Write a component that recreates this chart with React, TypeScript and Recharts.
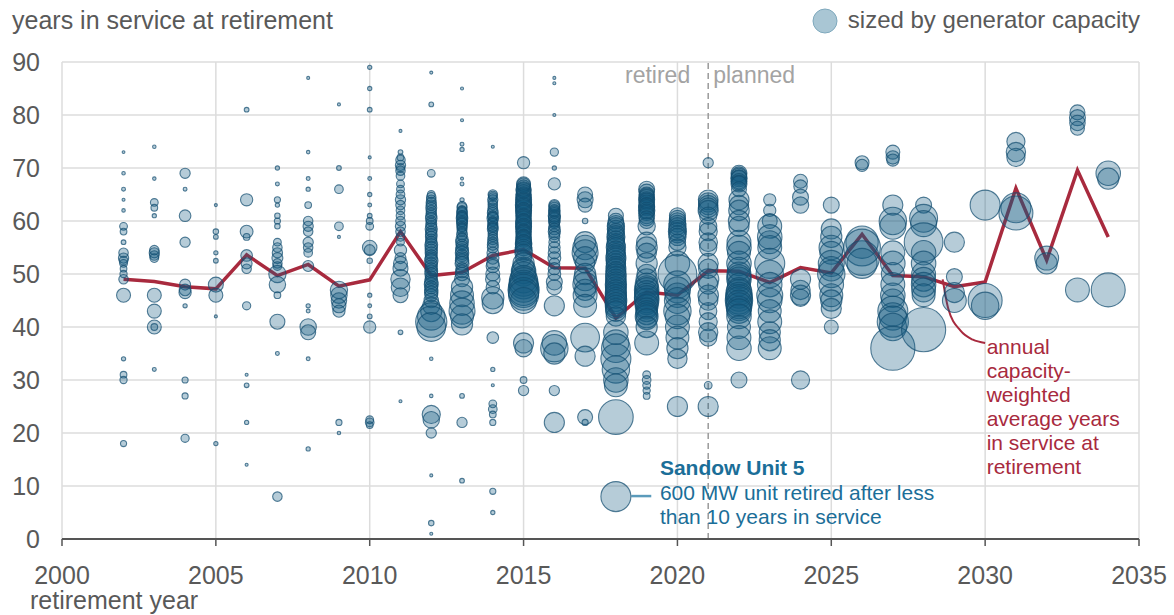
import { ComposedChart, Scatter, Line, XAxis, YAxis, ZAxis, CartesianGrid, ReferenceLine, ReferenceDot } from "recharts";

// [years in service, capacity MW] for each unit, grouped by retirement year
const u2002 = [[73,5],[69,8],[66,10],[64,6],[62,8],[59,40],[58,30],[56,15],[54,60],[53,70],[52.5,50],[52,40],[51,30],[50,35],[49,60],[46,130],[34,12],[31,30],[30,35],[18,25]];
const u2003 = [[74,8],[68,8],[63.5,40],[62.5,30],[61,12],[54.5,60],[54,70],[53.5,60],[53,50],[46,130],[43,130],[40,130],[40,30],[32,10]];
const u2004 = [[69,70],[66,10],[61,90],[56,70],[48,80],[47,90],[46.5,100],[44,12],[30,25],[27,25],[19,45]];
const u2005 = [[63,6],[58,20],[57,15],[54,12],[52.5,15],[48,150],[46,130],[42,6],[18,12]];
const u2006 = [[81,15],[64,100],[58,110],[57,30],[53.5,90],[52,80],[51,60],[44,45],[31,6],[29,15],[22,12],[14,6]];
const u2007 = [[70,12],[67,10],[64,25],[63,12],[61,20],[60,25],[59,20],[56,40],[55,60],[54,70],[53,80],[52,60],[51.5,50],[50,200],[48,180],[46,30],[41,150],[35,10],[8,60]];
const u2008 = [[87,6],[73,8],[68,10],[66,12],[63,30],[60,60],[59,70],[58,60],[56,70],[55,60],[54,50],[51.5,80],[44,12],[43,10],[40,180],[39,150],[34,10],[17,12]];
const u2009 = [[82,6],[70,15],[66,50],[59,50],[57,6],[47,200],[46,180],[45,160],[44,130],[43,100],[22,25],[20,8]];
const u2010 = [[89,12],[85,12],[81,15],[72,6],[68,10],[65,12],[63,10],[61,15],[60,30],[59,40],[55,140],[54.5,80],[52.5,20],[46,12],[44,10],[42,15],[40,100],[22.5,40],[22,50],[21.5,30]];
const u2011 = [[77,6],[73,15],[72,30],[71.5,60],[70.5,70],[70,50],[69.5,60],[68.5,50],[67,40],[66,40],[65,50],[64,70],[63,60],[62,50],[61,50],[60,60],[59,70],[58,60],[57,50],[56,40],[54.5,100],[53,80],[52,130],[51,150],[49,250],[47.5,230],[46,150],[39,15],[26,6]];
const u2012 = [[88,6],[82,15],[69,40],[65,40],[64.5,60],[64,60],[63.5,70],[63,70],[62.5,80],[62,70],[61.5,70],[61,80],[60.5,90],[60,70],[59.5,80],[59,80],[58.5,100],[58,80],[57.5,90],[57,90],[56.5,80],[56,90],[55.5,110],[55,100],[54.5,100],[54,100],[53.5,90],[53,100],[52.5,120],[52,100],[51.5,100],[51,100],[50.5,110],[50,110],[49.5,90],[49,100],[48.5,120],[48,130],[47.5,110],[47,120],[46.5,120],[46,110],[45,140],[44,200],[43,300],[42,500],[41,650],[40,550],[34,8],[27,8],[23.5,220],[22.5,180],[20,70],[12,6],[3,20],[1,6]];
const u2013 = [[85,6],[79,6],[74.5,10],[73.5,12],[68,6],[67,10],[64,12],[62.8,60],[62.5,70],[62,60],[61.8,70],[61.5,80],[61,70],[60.8,80],[60.5,90],[60,80],[59.8,70],[59.5,80],[59,70],[58.8,60],[58.5,70],[58,60],[57.5,80],[57,60],[56.5,100],[56,110],[55.5,90],[55,100],[54.5,110],[54,120],[53.5,100],[53,110],[52.5,120],[52,130],[51,100],[50.5,110],[50,120],[49,150],[47.5,300],[46,350],[44.5,400],[43,450],[42,350],[40.5,300],[27,15],[22,70],[11,15]];
const u2014 = [[74,6],[65,60],[64.8,50],[64.5,50],[64,70],[63.5,60],[63,60],[62.5,60],[62,70],[61.5,80],[61,70],[60.8,70],[60.5,90],[60,60],[59.8,60],[59.5,70],[59,70],[58.8,70],[58.5,80],[58,60],[57.5,60],[57,60],[56.5,70],[56,70],[55.5,80],[55,80],[54,90],[53,100],[52,100],[51.5,120],[50,130],[49,140],[47.5,120],[45.5,330],[44.5,300],[38,90],[32,12],[29,6],[25.5,40],[24.5,50],[23.5,30],[22,25],[9,25],[5,12]];
const u2015 = [[71,100],[67,130],[66.8,130],[66.5,120],[66,150],[65.8,150],[65.5,140],[65,160],[64.8,150],[64.5,150],[64,170],[63.8,160],[63.5,160],[63,180],[62.8,170],[62.5,170],[62,170],[61.8,160],[61.5,160],[61,160],[60.8,150],[60.5,150],[60,150],[59.8,170],[59.5,170],[59,170],[58.8,160],[58.5,160],[58,160],[57.8,150],[57.5,150],[57,150],[56.8,160],[56.5,160],[56,160],[55.8,180],[55.5,180],[55,180],[54.5,200],[54,200],[53,170],[52,300],[51,350],[50.5,400],[50,400],[49,500],[48.5,550],[48,550],[47.5,600],[47,650],[46.5,600],[46,600],[45,450],[37,270],[36,200],[30,30],[28,70]];
const u2016 = [[87,6],[86,6],[80,6],[73,45],[70,12],[67,100],[63,80],[62.8,80],[62.5,80],[62,90],[61.8,80],[61.5,80],[61,100],[60.8,90],[60.5,90],[60,90],[59.8,80],[59.5,70],[59,80],[58.5,90],[58,100],[57.5,80],[57,80],[56,80],[55,90],[54,100],[53,110],[52,80],[51,100],[50,110],[48.5,170],[47.5,150],[44,270],[37,400],[36,500],[35,300],[28,70],[22,270]];
const u2017 = [[65,150],[64,170],[63,130],[60,20],[56,300],[55,400],[54,450],[53,350],[52,250],[50,300],[49,350],[48,400],[47,300],[46,380],[44,350],[38,550],[34.5,270],[23,150],[22,25]];
const u2018 = [[61,150],[60,160],[59.5,180],[59,200],[58.5,200],[58,180],[57.5,200],[57,220],[56.5,200],[56,200],[55.5,230],[55,250],[54.5,230],[54,230],[53.5,250],[53,270],[52.5,250],[52,250],[51.5,250],[51,270],[50.5,250],[50,280],[49.5,280],[49,270],[48.5,280],[48,300],[47.5,290],[47,280],[46.5,300],[46,300],[45.5,300],[45,320],[44.5,300],[44,300],[43.5,280],[43,280],[42,250],[39,400],[37,450],[36,550],[34,600],[32,500],[30,400],[29,350],[23,800],[8,600]];
const u2019 = [[66,170],[65.5,160],[65,150],[64.8,150],[64.5,160],[64,170],[63.8,160],[63.5,150],[63,160],[62.8,170],[62.5,170],[62,180],[61.8,150],[61.5,150],[61,170],[60.5,150],[60,150],[59,200],[56,270],[55,300],[54,250],[52,300],[50,250],[49,300],[48,350],[47.5,350],[47,400],[46.5,380],[46,380],[45.5,400],[45,400],[44.5,350],[44,350],[43.5,300],[43,300],[42.5,320],[42,350],[41.5,300],[40,300],[37,380],[31,40],[30,50],[29,40],[28,35],[27,30]];
const u2020 = [[61,170],[60.5,170],[60,180],[59.5,190],[59,200],[58.5,200],[58,220],[57.5,200],[57,200],[56,180],[55,200],[52,400],[50,1000],[48,500],[47,450],[46,400],[45,450],[43,500],[42,400],[40,380],[38,350],[36,300],[34,250],[25,270]];
const u2021 = [[71,70],[64,260],[63.5,250],[63,250],[62.5,260],[62,270],[61,200],[59,200],[58,220],[56,230],[55,200],[52,270],[51,250],[49,300],[48,250],[46,280],[45,250],[43,200],[41,220],[39,250],[38,200],[29,40],[25,270]];
const u2022 = [[69,170],[68.8,150],[68.5,160],[68.2,160],[68,180],[67.5,160],[67.2,150],[67,170],[66,150],[64,270],[63,250],[62,280],[60,300],[59,270],[56,380],[55,400],[54,350],[52,400],[51,350],[50,380],[49.5,380],[49,400],[48,350],[47,400],[46.5,450],[46,450],[45.5,480],[45,500],[44.5,450],[44,450],[43.5,400],[43,400],[42,400],[40,350],[38,380],[36,400],[30,170]];
const u2023 = [[64,100],[62,100],[60,150],[59,380],[57,400],[56,350],[55,380],[52,600],[50,500],[48,400],[46,450],[45,400],[43,350],[41,380],[39,300],[37.5,300],[36,350]];
const u2024 = [[67.5,130],[66.5,120],[64.5,170],[63,180],[49,270],[47,250],[46,270],[45.5,200],[30,220]];
const u2025 = [[63,170],[58.5,270],[57,300],[55,400],[54,350],[52,450],[51,400],[50,500],[48,400],[46,350],[45,300],[43.5,270],[40,130]];
const u2026 = [[71,130],[70.5,100],[56,700],[55,900],[53,800],[52,600]];
const u2027 = [[73,130],[72,120],[71.5,100],[63,270],[60,500],[59,450],[54,380],[52,400],[50,350],[48,380],[46,400],[45,350],[43,600],[42,500],[41,650],[40,500],[36,1300]];
const u2028 = [[63,170],[60.5,520],[59.5,450],[56,1000],[54,400],[52,400],[50,380],[49,380],[48,400],[47,380],[46,350],[39.5,1300]];
const u2029 = [[56,270],[49.5,170],[46.5,270],[45,380]];
const u2030 = [[63,600],[45,770],[44,500]];
const u2031 = [[75,220],[73,250],[72,220],[62.5,600],[61.5,770]];
const u2032 = [[53,380],[52,300]];
const u2033 = [[80.5,150],[79.5,170],[78.5,160],[77.5,130],[47,380]];
const u2034 = [[69,400],[68,300],[47,770]];

const unitYears = [2002, 2003, 2004, 2005, 2006, 2007, 2008, 2009, 2010, 2011, 2012, 2013, 2014, 2015, 2016, 2017, 2018,
  2019, 2020, 2021, 2022, 2023, 2024, 2025, 2026, 2027, 2028, 2029, 2030, 2031, 2032, 2033, 2034];
const unitLists = [u2002, u2003, u2004, u2005, u2006, u2007, u2008, u2009, u2010, u2011, u2012, u2013, u2014, u2015, u2016, u2017, u2018,
  u2019, u2020, u2021, u2022, u2023, u2024, u2025, u2026, u2027, u2028, u2029, u2030, u2031, u2032, u2033, u2034];

// capacity-weighted average
const avgYears = unitYears;
const avgAges = [49, 48.6, 47.6, 47.2, 53.6, 49.7, 51.8, 47.7, 48.9, 58, 49.7, 50.3, 53.5, 54.6, 51.2, 51.1, 41.7,
  46.6, 46, 50.6, 50.5, 48.4, 51.2, 50.2, 57.5, 49.7, 49.5, 47.6, 48.5, 66.2, 52.6, 69.6, 57];

const calloutYears = [2028.62, 2028.8, 2029.2, 2029.6, 2030];
const calloutAges = [49, 43.5, 39.3, 37.6, 37];

const xTicks = [2000, 2005, 2010, 2015, 2020, 2025, 2030, 2035];
const yTicks = [0, 10, 20, 30, 40, 50, 60, 70, 80, 90];

const units = unitLists.flatMap((list, i) => list.map(([age, mw]) => ({ year: unitYears[i], age, mw })));
const avgData = avgYears.map((year, i) => ({ year, age: avgAges[i] }));
const calloutData = calloutYears.map((year, i) => ({ year, age: calloutAges[i] }));

const FONT = '"Liberation Sans", Arial, sans-serif';
const GREY = "#595959";
const RED = "#a82a3e";
const BLUE_TEXT = "#1b6e98";

const redNote = ["annual", "capacity-", "weighted", "average years", "in service at", "retirement"];
const sandowNote = ["600 MW unit retired after less", "than 10 years in service"];

// bubble drawn from the scatter's own computed position and size
const Bubble = (p: any) => {
  const r = p.width ? p.width / 2 : Math.sqrt((p.size || 0) / Math.PI);
  return (
    <circle cx={p.cx} cy={p.cy} r={Math.max(r, 1.4)} fill="#145a82" fillOpacity={0.31}
      stroke="#134e70" strokeOpacity={0.72} strokeWidth={1.1} />
  );
};

export default function App() {
  return (
    <div style={{ position: "absolute", left: 0, top: 0, width: 1174, height: 615, fontFamily: FONT, background: "#fff" }}>
      <div style={{ position: "absolute", left: 12, top: 6, fontSize: 25, color: GREY }}>years in service at retirement</div>
      <div style={{ position: "absolute", right: 34, top: 6, fontSize: 24, color: GREY, display: "flex", alignItems: "center" }}>
        <svg width={30} height={28} style={{ marginRight: 8 }}>
          <circle cx={15} cy={15} r={12} fill="#a9c6d4" stroke="#7fa9bd" strokeWidth={1} />
        </svg>
        sized by generator capacity
      </div>
      <div style={{ position: "absolute", left: 30, top: 586, fontSize: 25, color: GREY }}>retirement year</div>
      <ComposedChart width={1174} height={615} margin={{ top: 62, right: 35, bottom: 36, left: 0 }}>
        <CartesianGrid stroke="#dcdcdc" strokeWidth={1.5} />
        <XAxis type="number" dataKey="year" domain={[2000, 2035]} ticks={xTicks} height={40}
          axisLine={{ stroke: "#555", strokeWidth: 2 }} tickLine={{ stroke: "#555", strokeWidth: 1.5 }} tickSize={7} tickMargin={20}
          tick={{ fontSize: 25, fill: GREY, fontFamily: FONT }} allowDecimals={false} />
        <YAxis type="number" dataKey="age" domain={[0, 90]} ticks={yTicks} width={62} axisLine={false} tickLine={false}
          tickSize={0} tickMargin={22} tick={{ fontSize: 25, fill: GREY, fontFamily: FONT }} />
        <ZAxis type="number" dataKey="mw" domain={[0, 2000]} range={[0, 2356]} />
        <ReferenceLine x={2021} stroke="#9a9a9a" strokeWidth={1.5} strokeDasharray="6 4" />
        <Scatter data={units} shape={Bubble} isAnimationActive={false} />
        <Line data={avgData} dataKey="age" stroke={RED} strokeWidth={3.5} dot={false} isAnimationActive={false} />
        <Line data={calloutData} dataKey="age" type="monotone" stroke={RED} strokeWidth={2} dot={false} isAnimationActive={false} />
        <ReferenceLine segment={[{ x: 2018.5, y: 8.1 }, { x: 2019.15, y: 8.1 }]} stroke="#5b9bbb" strokeWidth={2.5} />
        <ReferenceDot x={2021} y={87.5} r={0} fill="none" stroke="none"
          label={(p: any) => (
            <g fontFamily={FONT} fontSize={23} fill="#a3a3a3">
              <text x={p.viewBox.x - 18} y={p.viewBox.y} textAnchor="end" dominantBaseline="central">retired</text>
              <text x={p.viewBox.x + 5} y={p.viewBox.y} textAnchor="start" dominantBaseline="central">planned</text>
            </g>
          )} />
        <ReferenceDot x={2019.43} y={8.1} r={0} fill="none" stroke="none"
          label={(p: any) => (
            <g fontFamily={FONT} fontSize={21} fill={BLUE_TEXT}>
              <text x={p.viewBox.x} y={p.viewBox.y - 29} dominantBaseline="central" fontWeight="bold">Sandow Unit 5</text>
              {sandowNote.map((s, i) => (
                <text key={s} x={p.viewBox.x} y={p.viewBox.y - 4 + i * 24} dominantBaseline="central">{s}</text>
              ))}
            </g>
          )} />
        <ReferenceDot x={2030.05} y={37} r={0} fill="none" stroke="none"
          label={(p: any) => (
            <g fontFamily={FONT} fontSize={21} fill={RED}>
              {redNote.map((s, i) => (
                <text key={s} x={p.viewBox.x} y={p.viewBox.y + 4 + i * 24} dominantBaseline="central">{s}</text>
              ))}
            </g>
          )} />
      </ComposedChart>
    </div>
  );
}
